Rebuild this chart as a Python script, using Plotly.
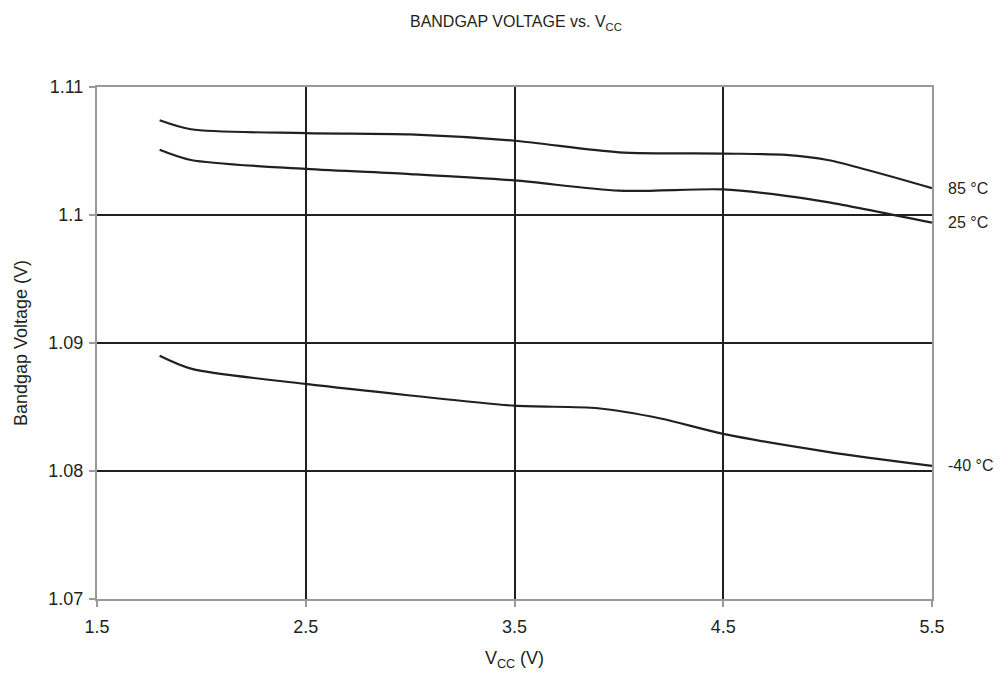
import plotly.graph_objects as go

# Readings taken from the chart
x_85 = [1.8, 1.95, 2.5, 3.0, 3.5, 4.0, 4.5, 4.8, 5.0, 5.5]
v_85 = [1.1074, 1.1067, 1.1064, 1.1063, 1.1058, 1.1049, 1.1048, 1.1047, 1.1043, 1.1021]

x_25 = [1.8, 1.95, 2.5, 3.0, 3.5, 4.0, 4.5, 4.8, 5.0, 5.5]
v_25 = [1.1051, 1.1043, 1.1036, 1.1032, 1.1027, 1.1019, 1.1020, 1.1015, 1.1010, 1.0994]

x_m40 = [1.8, 1.95, 2.5, 3.0, 3.5, 3.9, 4.2, 4.5, 5.0, 5.5]
v_m40 = [1.0890, 1.0880, 1.0868, 1.0859, 1.0851, 1.0849, 1.0841, 1.0829, 1.0815, 1.0804]

series = [("85 °C", x_85, v_85), ("25 °C", x_25, v_25), ("-40 °C", x_m40, v_m40)]

x_ticks = [1.5, 2.5, 3.5, 4.5, 5.5]
x_ticklabels = ["1.5", "2.5", "3.5", "4.5", "5.5"]
y_ticks = [1.07, 1.08, 1.09, 1.10, 1.11]
y_ticklabels = ["1.07", "1.08", "1.09", "1.1", "1.11"]

fig = go.Figure()

for name, xs, ys in series:
    fig.add_trace(go.Scatter(x=xs, y=ys, mode='lines', name=name,
                             line=dict(color='#231f20', width=2.2, shape='spline', smoothing=0.8)))
    fig.add_annotation(x=xs[-1], y=ys[-1], text=name, showarrow=False,
                       xanchor='left', yanchor='middle', xshift=14,
                       font=dict(size=16, color='#231f20'))

# page body has an 8px margin, so the figure is a bit smaller than the window
fig.update_layout(
    width=990, height=663,
    margin=dict(l=89, r=66, t=79, b=72),
    paper_bgcolor='white', plot_bgcolor='white',
    showlegend=False,
    font=dict(family='Liberation Sans, Arial, sans-serif', color='#231f20'),
    title=dict(text='BANDGAP VOLTAGE vs. V<sub>CC</sub>', x=0.513, xanchor='center',
               yref='container', y=0.988, yanchor='top',
               font=dict(size=16, color='#231f20')),
)

fig.update_xaxes(
    range=[1.5, 5.5], tickvals=x_ticks, ticktext=x_ticklabels, automargin=False,
    showgrid=True, gridcolor='#231f20', gridwidth=2, zeroline=False,
    showline=True, linecolor='#999999', linewidth=2, mirror=True,
    ticks='outside', tickcolor='#999999', ticklen=6, tickwidth=1.5,
    tickfont=dict(size=18), ticklabelstandoff=4,
    title=dict(text='V<sub>CC</sub> (V)', font=dict(size=18), standoff=22),
)
fig.update_yaxes(
    range=[1.07, 1.11], tickvals=y_ticks, ticktext=y_ticklabels, automargin=False,
    showgrid=True, gridcolor='#231f20', gridwidth=2, zeroline=False,
    showline=True, linecolor='#999999', linewidth=2, mirror=True,
    ticks='outside', tickcolor='#999999', ticklen=6, tickwidth=1.5,
    tickfont=dict(size=18), ticklabelstandoff=2,
    title=dict(text='Bandgap Voltage (V)', font=dict(size=18), standoff=16),
)

fig.write_html("out.html")
